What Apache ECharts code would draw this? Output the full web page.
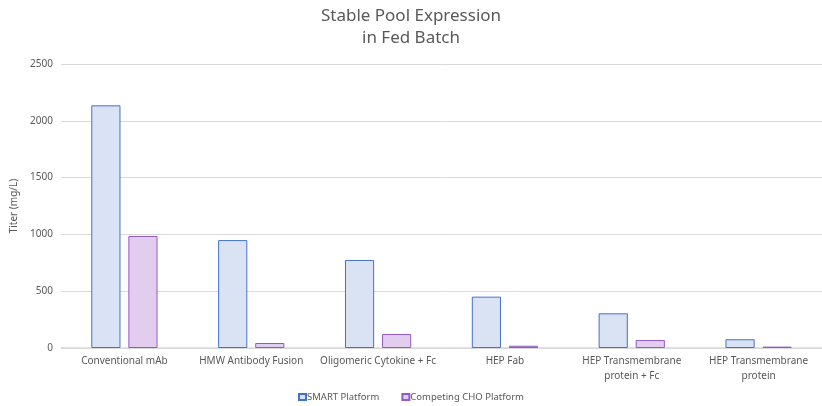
<!DOCTYPE html>
<html><head><meta charset="utf-8">
<script src="https://cdn.jsdelivr.net/npm/echarts@6/dist/echarts.min.js"></script>
<style>html,body{margin:0;padding:0;background:#fff}#c{width:822px;height:406px}</style>
</head><body><div id="c"></div>
<script>
const categories = ['Conventional mAb','HMW Antibody Fusion','Oligomeric Cytokine + Fc','HEP Fab','HEP Transmembrane\nprotein + Fc','HEP Transmembrane\nprotein'];
const smart = [2136, 950, 775, 452, 305, 77];
const competing = [986, 44, 123, 20, 70, 12];
const seriesNames = ['SMART Platform','Competing CHO Platform'];
const yTicks = [0, 500, 1000, 1500, 2000, 2500];

const chart = echarts.init(document.getElementById('c'));
const font = '"Noto Sans", "Open Sans", sans-serif';
chart.setOption({
  animation:false,
  title:{text:'Stable Pool Expression\nin Fed Batch',left:'center',top:0,
    textStyle:{fontFamily:font,fontSize:17,fontWeight:'normal',color:'#595959',lineHeight:22}},
  legend:{top:387,left:'center',itemWidth:7,itemHeight:6,itemGap:22,
    textStyle:{fontFamily:font,fontSize:9.5,color:'#595959',padding:[0,0,0,-4]},
    data:seriesNames.map(n=>({name:n,icon:'rect'}))},
  grid:{left:61,right:0,top:64,bottom:58},
  xAxis:{type:'category',data:categories,
    axisLine:{lineStyle:{color:'#d9d9d9',width:1.5}},axisTick:{show:false},
    axisLabel:{fontFamily:font,fontSize:10,color:'#595959',interval:0,lineHeight:15,margin:6}},
  yAxis:{type:'value',min:yTicks[0],max:yTicks[yTicks.length-1],interval:500,
    name:'Titer (mg/L)',nameLocation:'middle',nameGap:38,
    nameTextStyle:{fontFamily:font,fontSize:10,color:'#595959'},
    axisLine:{show:false},axisTick:{show:false},
    axisLabel:{fontFamily:font,fontSize:10,color:'#595959',margin:8,formatter:v=>String(v)},
    splitLine:{lineStyle:{color:'#d9d9d9'}}},
  series:[
    {name:seriesNames[0],type:'bar',data:smart,barWidth:'23%',barGap:'27%',
     itemStyle:{color:'#dae3f3',borderColor:'#4472c4',borderWidth:1}},
    {name:seriesNames[1],type:'bar',data:competing,barWidth:'23%',barGap:'27%',
     itemStyle:{color:'#e2cdef',borderColor:'#9359c4',borderWidth:1}}
  ]
});
</script></body></html>
